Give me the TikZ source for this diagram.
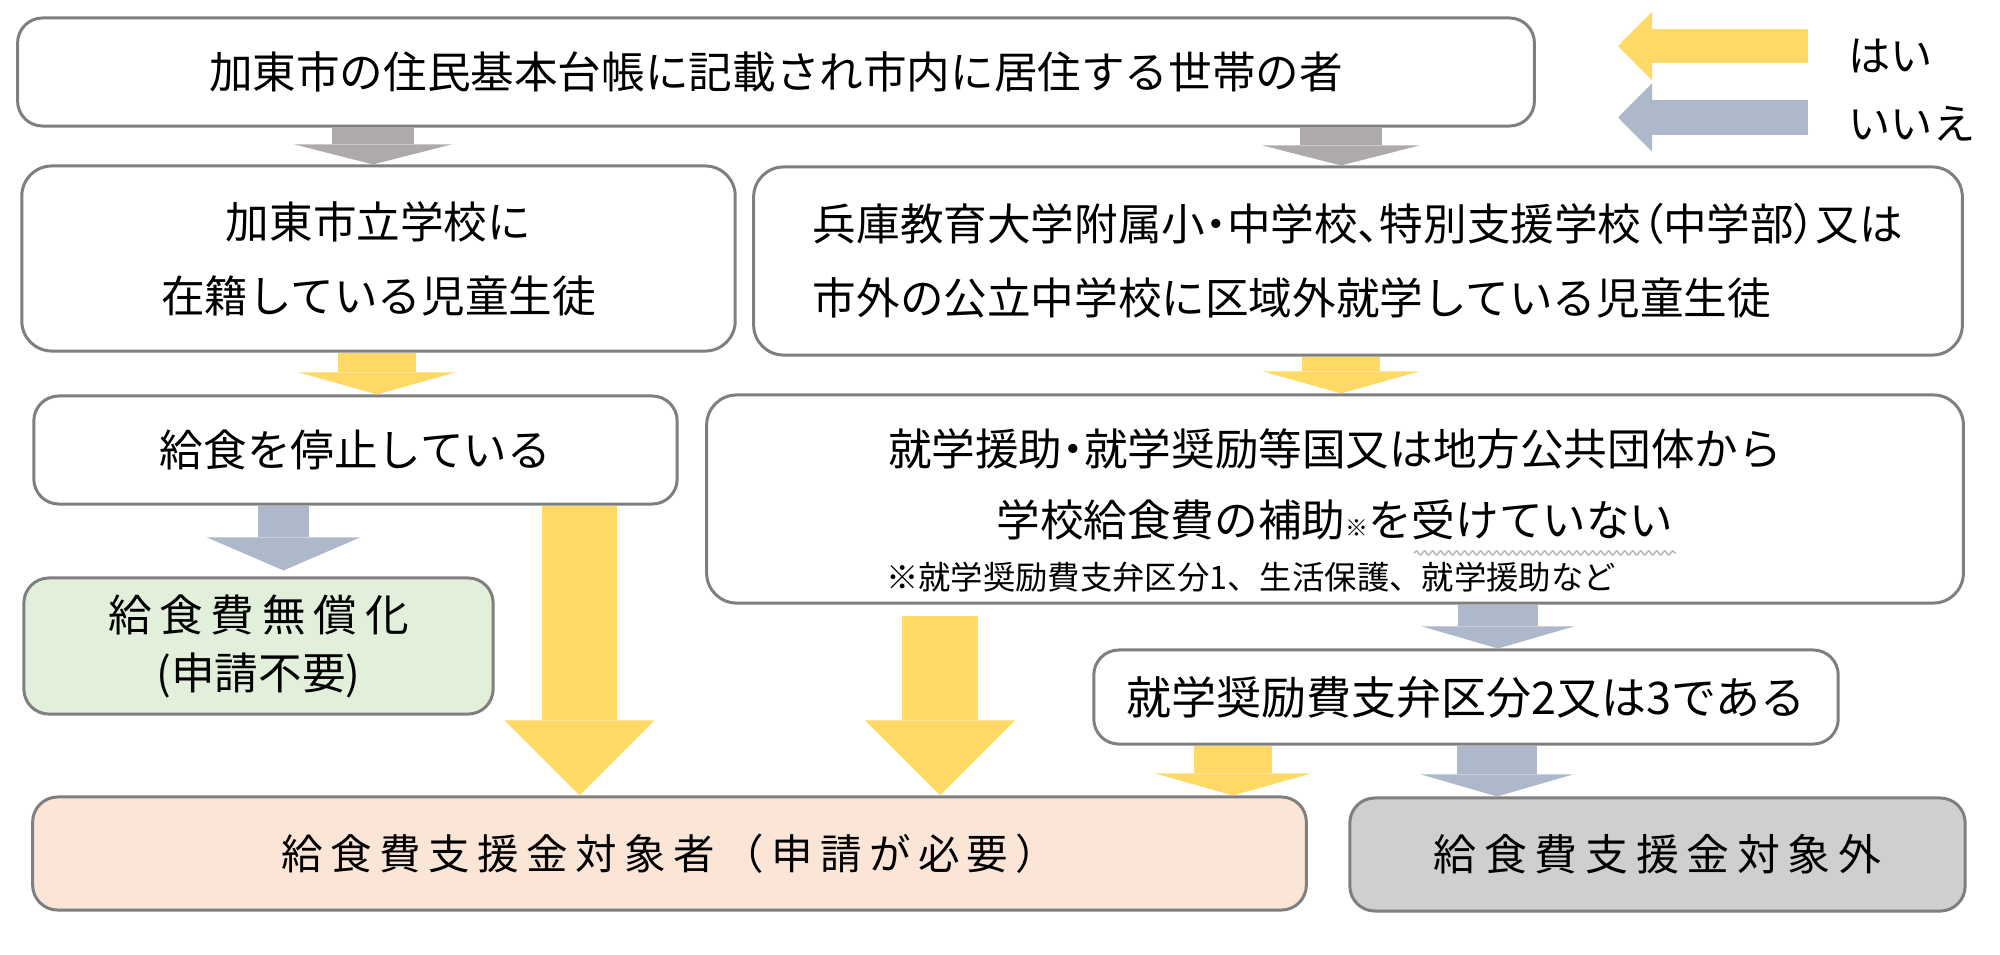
\documentclass[tikz,border=0pt]{standalone}
\usepackage{fontspec}
\setmainfont{Noto Sans CJK JP}
\newfontfamily\jpwide[LetterSpace=18]{Noto Sans CJK JP}
\newfontfamily\jpprop[RawFeature=+palt]{Noto Sans CJK JP}
\usetikzlibrary{arrows.meta,decorations.pathmorphing}
\definecolor{boxline}{RGB}{127,127,127}
\definecolor{yescol}{RGB}{255,217,102}
\definecolor{nocol}{RGB}{173,185,202}
\definecolor{startcol}{RGB}{174,170,170}
\definecolor{freecol}{RGB}{226,239,218}
\definecolor{targetcol}{RGB}{251,229,214}
\definecolor{othercol}{RGB}{208,206,206}

\begin{document}
\begin{tikzpicture}[x=0.01cm,y=-0.01cm,font=\fontsize{12.4pt}{21pt}\selectfont,
  box/.style={draw=boxline,line width=0.03cm,fill=white,rounded corners=0.25cm,inner sep=0pt,align=center},
  flow/.style n args={4}{draw=#1,line width=#2,-{Triangle[width=#3,length=#4,line width=0pt]}},
  startflow/.style={flow={startcol}{0.81cm}{1.57cm}{0.2cm}},
  yesflow/.style={flow={yescol}{0.78cm}{1.56cm}{0.22cm}},
  yesbig/.style={flow={yescol}{0.75cm}{1.5cm}{0.75cm}},
  noflow/.style={flow={nocol}{0.8cm}{1.52cm}{0.22cm}},
  nonarrow/.style={flow={nocol}{0.51cm}{1.53cm}{0.33cm}},
  keyflow/.style={flow={#1}{0.345cm}{0.685cm}{0.34cm}}]
\useasboundingbox (0,0) rectangle (2000,954);

\node[box,minimum width=15.16cm,minimum height=1.08cm] (resident) at (776,72) {加東市の住民基本台帳に記載され市内に居住する世帯の者};
\node[box,minimum width=7.13cm,minimum height=1.85cm,rounded corners=0.3cm] (city) at (378.5,258.5) {加東市立学校に\\在籍している児童生徒};
\node[box,minimum width=12.08cm,minimum height=1.88cm,rounded corners=0.3cm,align=left] (outside) at (1358,261) {{\jpprop 兵庫教育大学附属小・中学校、特別支援学校（中学部）又は}\\市外の公立中学校に区域外就学している児童生徒};
\node[box,minimum width=6.43cm,minimum height=1.08cm] (stop) at (355.5,450) {給食を停止している};
\node[box,minimum width=12.56cm,minimum height=2.08cm,rounded corners=0.3cm] (aid) at (1335,499) {\rule{0pt}{0.6cm}就学援助{\jpprop ・}就学奨励等国又は地方公共団体から\\[-0.8pt]学校給食費の補助{\fontsize{6.5pt}{6.5pt}\selectfont ※}を受けていない\\[-5.9pt]\hspace*{-1.68cm}{\fontsize{9.2pt}{9.2pt}\selectfont ※就学奨励費支弁区分1、生活保護、就学援助など}};
\node[box,fill=freecol,minimum width=4.69cm,minimum height=1.36cm,font=\fontsize{12.4pt}{16.5pt}\selectfont] (free) at (258.5,646) {{\jpwide 給食費無償化}\\(申請不要)};
\node[box,minimum width=7.44cm,minimum height=0.94cm,font=\fontsize{12.8pt}{21pt}\selectfont] (grade) at (1466,697) {就学奨励費支弁区分2又は3である};
\node[box,fill=targetcol,minimum width=12.73cm,minimum height=1.13cm,font=\fontsize{11.8pt}{21pt}\selectfont] (target) at (669.5,853.5) {\jpwide 給食費支援金対象者（申請が必要）};
\node[box,fill=othercol,minimum width=6.15cm,minimum height=1.13cm,font=\fontsize{12.2pt}{21pt}\selectfont] (nontarget) at (1657.5,854.5) {\jpwide 給食費支援金対象外};

% legend
\node[anchor=west,inner sep=0pt,font=\fontsize{12pt}{21pt}\selectfont] (yeslabel) at (1848,56) {はい};
\node[anchor=west,inner sep=0pt,font=\fontsize{12pt}{21pt}\selectfont] (nolabel) at (1848,124) {いいえ};
\draw[keyflow=yescol] (1808,46) -- ++(-190,0);
\draw[keyflow=nocol] (1808,117.5) -- ++(-190,0);

\foreach \col/\from/\to/\kind in {373/resident/city/startflow,1341/resident/outside/startflow,
    377/city/stop/yesflow,1341/outside/aid/yesflow,1498/aid/grade/noflow,
    1233/grade/target/yesflow,1497/grade/nontarget/noflow} {
  \draw[\kind] (\from.south -| \col,0) -- (\to.north -| \col,0);
}
\draw[nonarrow,shorten >=0.06cm] (stop.south -| 283.5,0) -- (free.north -| 283.5,0);
\draw[yesbig] (stop.south -| 579.5,0) -- (target.north -| 579.5,0);
\draw[yesbig,shorten <=0.11cm] (aid.south -| 940,0) -- (target.north -| 940,0);

\draw[gray!60,line width=0.4pt,decorate,decoration={snake,amplitude=0.02cm,segment length=0.08cm}] (1414,553) -- (1676,553);
\end{tikzpicture}
\end{document}
